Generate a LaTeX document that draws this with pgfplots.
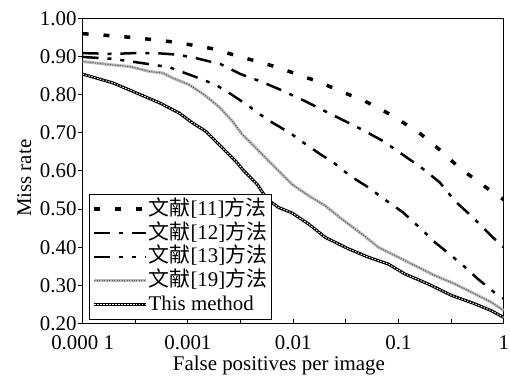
\documentclass[border=0pt]{standalone}
\usepackage{fontspec}
\setmainfont{Liberation Serif}
\newfontfamily\cjk{Noto Sans CJK SC}
\usepackage{pgfplots}
\pgfplotsset{compat=1.18}
\pgfplotsset{legend image code/.code={\draw[#1] (0bp,0bp) -- (52bp,0bp);}}

\pgfplotstableread{
lx y
-4.0 0.960
-3.745 0.955
-3.527 0.950
-3.319 0.944
-3.102 0.937
-2.941 0.929
-2.752 0.920
-2.515 0.900
-2.307 0.885
-2.099 0.867
-1.948 0.852
-1.740 0.832
-1.551 0.809
-1.333 0.785
-1.135 0.757
-0.955 0.727
-0.785 0.696
-0.615 0.657
-0.416 0.607
-0.104 0.544
0 0.525
}\seriesA

\pgfplotstableread{
lx y
-4.0 0.909
-3.713 0.907
-3.508 0.909
-3.303 0.909
-3.099 0.905
-2.925 0.896
-2.688 0.880
-2.499 0.854
-2.310 0.835
-2.121 0.813
-1.901 0.785
-1.728 0.761
-1.539 0.735
-1.349 0.709
-1.144 0.678
-0.939 0.639
-0.750 0.602
-0.608 0.570
-0.466 0.522
-0.309 0.482
-0.167 0.443
-0.041 0.409
0 0.400
}\seriesB

\pgfplotstableread{
lx y
-4.0 0.899
-3.713 0.894
-3.587 0.889
-3.366 0.880
-3.177 0.872
-2.941 0.848
-2.736 0.826
-2.594 0.802
-2.421 0.770
-2.248 0.735
-2.137 0.717
-2.011 0.696
-1.948 0.683
-1.743 0.644
-1.617 0.622
-1.459 0.587
-1.286 0.557
-1.160 0.531
-0.955 0.491
-0.766 0.443
-0.671 0.417
-0.498 0.378
-0.356 0.345
-0.246 0.317
-0.073 0.278
0 0.265
}\seriesC

\pgfplotstableread{
lx y
-4.0 0.887
-3.745 0.879
-3.556 0.874
-3.366 0.861
-3.241 0.857
-3.146 0.844
-2.988 0.826
-2.846 0.800
-2.704 0.768
-2.579 0.731
-2.484 0.696
-2.357 0.661
-2.232 0.626
-2.137 0.600
-2.011 0.565
-1.853 0.535
-1.696 0.509
-1.539 0.474
-1.349 0.435
-1.191 0.400
-1.002 0.374
-0.844 0.352
-0.655 0.326
-0.466 0.304
-0.277 0.278
-0.120 0.256
0 0.234
}\seriesD

\pgfplotstableread{
lx y
-4.0 0.854
-3.713 0.831
-3.492 0.805
-3.272 0.779
-3.083 0.752
-2.957 0.726
-2.830 0.704
-2.736 0.678
-2.641 0.652
-2.547 0.626
-2.468 0.600
-2.342 0.565
-2.248 0.526
-2.137 0.504
-2.011 0.490
-1.853 0.461
-1.696 0.426
-1.475 0.396
-1.286 0.374
-1.097 0.356
-0.939 0.330
-0.719 0.304
-0.498 0.274
-0.277 0.252
-0.120 0.234
0 0.216
}\seriesE

\begin{document}
\fontsize{21bp}{25bp}\selectfont
\begin{tikzpicture}
\begin{axis}[
  name=ax,
  width=423bp, height=306.5bp, scale only axis,
  xmin=-4, xmax=0, ymin=0.2, ymax=1.0,
  xtick={-4,-3.5,-3,-2.5,-2,-1.5,-1,-0.5,0},
  xticklabels={0.000 1,,0.001,,0.01,,0.1,,1},
  ytick={0.2,0.3,0.4,0.5,0.6,0.7,0.8,0.9,1.0},
  yticklabels={0.20,0.30,0.40,0.50,0.60,0.70,0.80,0.90,1.00},
  xtick pos=bottom, ytick pos=left,
  xtick align=inside, ytick align=outside,
  major tick length=5bp,
  every tick/.style={black, line width=1bp},
  axis line style={line width=1bp},
  xticklabel style={inner sep=1bp, yshift=-10.7bp},
  yticklabel style={inner sep=1bp},
  xlabel={False positives per image},
  ylabel={Miss rate},
  xlabel style={at={(axis description cs:0.466,0)}, anchor=north, inner sep=1bp, yshift=-31.5bp},
  ylabel style={at={(axis description cs:-0.1189,0.476)}, anchor=south, inner sep=1bp, rotate=0},
  legend cell align=left,
  legend style={at={(axis description cs:0.015,0.011)}, anchor=south west,
    draw=black, line width=1bp, fill=white, inner xsep=3bp, inner ysep=3bp,
    row sep=0bp,
    nodes={inner sep=1bp, text height=17bp, text depth=5bp}},
]
\addplot[black, line width=3.5bp, dash pattern=on 6bp off 15bp] table[x=lx,y=y] {\seriesA};
\addlegendentry{{\cjk 文献}[11]{\cjk 方法}}
\addplot[black, line width=2.5bp, dash pattern=on 16bp off 9bp on 4bp off 9bp] table[x=lx,y=y] {\seriesB};
\addlegendentry{{\cjk 文献}[12]{\cjk 方法}}
\addplot[black, line width=2.5bp, dash pattern=on 16bp off 9bp on 4bp off 9bp on 4bp off 9bp] table[x=lx,y=y] {\seriesC};
\addlegendentry{{\cjk 文献}[13]{\cjk 方法}}
\addplot[gray!55, line width=3bp, postaction={draw=black!65, line width=1bp, dash pattern=on 1bp off 1.5bp}] table[x=lx,y=y] {\seriesD};
\addlegendentry{{\cjk 文献}[19]{\cjk 方法}}
\addplot[black, line width=3bp, postaction={draw=white, line width=0.9bp, dash pattern=on 1.5bp off 1.5bp}] table[x=lx,y=y] {\seriesE};
\addlegendentry{This method}
\end{axis}
\path ([shift={(-83bp,-53bp)}]ax.south west) rectangle ([shift={(4bp,18.5bp)}]ax.north east);
\end{tikzpicture}
\end{document}
